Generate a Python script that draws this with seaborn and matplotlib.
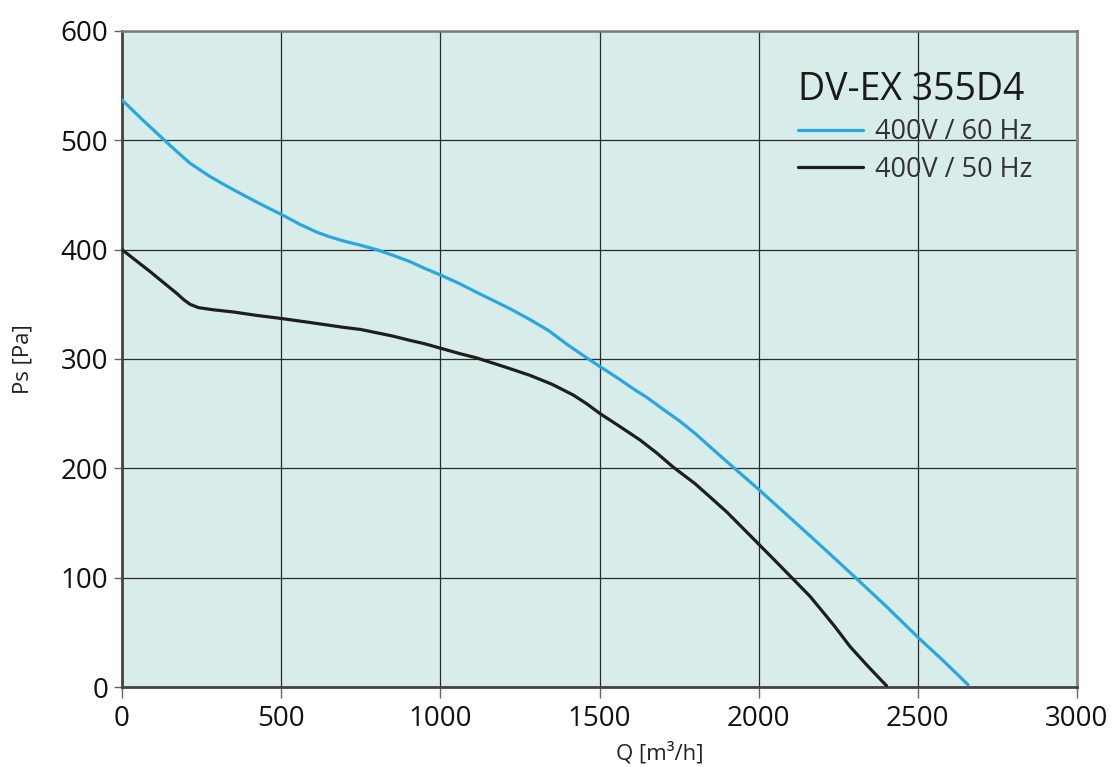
import numpy as np
import pandas as pd
import matplotlib
matplotlib.use("Agg")
import matplotlib.pyplot as plt
import seaborn as sns

# ---- data ----
q_60hz = [0, 60, 130, 175, 214, 276, 330, 381, 440, 502, 560, 612, 650, 695, 750,
          800, 850, 905, 950, 999, 1060, 1114, 1170, 1219, 1282, 1340, 1400, 1460,
          1502, 1560, 1610, 1648, 1700, 1753, 1800, 1850, 1920, 1999, 2075, 2151,
          2230, 2308, 2400, 2502, 2580, 2658]
ps_60hz = [537, 520, 501, 489, 479, 467, 458, 450, 441, 432, 423, 416, 412, 408, 404,
           400, 395, 389, 383, 377, 369, 361, 353, 346, 336, 326, 313, 301,
           293, 282, 272, 265, 254, 243, 232, 219, 201, 181, 161, 141,
           120, 99, 74, 45, 24, 2]

q_50hz = [0, 44, 88, 130, 172, 195, 214, 240, 287, 350, 420, 502, 600, 695, 750,
          800, 850, 905, 950, 999, 1060, 1114, 1200, 1282, 1350, 1418, 1460, 1502,
          1560, 1627, 1680, 1732, 1800, 1858, 1900, 1941, 1999, 2050, 2104, 2161,
          2198, 2240, 2287, 2340, 2402]
ps_50hz = [400, 390, 380, 370, 360, 354, 350, 347, 345, 343, 340, 337, 333, 329, 327,
           324, 321, 317, 314, 310, 305, 301, 293, 285, 277, 267, 259, 250,
           239, 226, 214, 201, 186, 171, 160, 148, 131, 116, 100, 83,
           70, 55, 37, 20, 1]

series_names = ["400V / 60 Hz", "400V / 50 Hz"]
series_colors = ["#29a8df", "#1e1e1e"]
chart_title = "DV-EX 355D4"
x_ticks = [0, 500, 1000, 1500, 2000, 2500, 3000]
y_ticks = [0, 100, 200, 300, 400, 500, 600]

df = pd.concat([
    pd.DataFrame({"Q": q_60hz, "Ps": ps_60hz, "series": series_names[0]}),
    pd.DataFrame({"Q": q_50hz, "Ps": ps_50hz, "series": series_names[1]}),
], ignore_index=True)

sns.set_style("ticks")
plt.rcParams["font.family"] = ["Open Sans", "DejaVu Sans"]

fig = plt.figure(figsize=(11.14, 7.67), dpi=100)
ax = fig.add_axes([122 / 1114, 1 - 687 / 767, 955 / 1114, 656 / 767])
ax.set_facecolor("#d8edea")

sns.lineplot(data=df, x="Q", y="Ps", hue="series", hue_order=series_names,
             palette=dict(zip(series_names, series_colors)), sort=False,
             linewidth=2.3, ax=ax, zorder=3)

ax.set_xlim(0, 3000)
ax.set_ylim(0, 600)
ax.set_xticks(x_ticks)
ax.set_yticks(y_ticks)
ax.grid(True, color="#2a2a2a", linewidth=0.9, zorder=1)
ax.set_axisbelow(True)

ax.tick_params(axis="both", labelsize=20, colors="#666666", labelcolor="#111111")
ax.tick_params(axis="x", length=8, width=1, pad=5)
ax.tick_params(axis="y", length=6, width=1, pad=4)

for side, col, lw in [("left", "#444444", 2.0), ("bottom", "#444444", 2.0),
                      ("top", "#7a7a7a", 1.8), ("right", "#8a8a8a", 2.2)]:
    ax.spines[side].set_color(col)
    ax.spines[side].set_linewidth(lw)

ax.set_xlabel("Q [m³/h]", fontsize=16, color="#222222", va="center")
ax.xaxis.set_label_coords((660 - 122) / 955, -(753 - 687) / 656)
ax.set_ylabel("Ps [Pa]", fontsize=16, color="#222222", va="center")
ax.yaxis.set_label_coords(-(122 - 23) / 955, 0.5)

leg = ax.legend(title=chart_title, frameon=False, loc="upper right",
                bbox_to_anchor=(0.953, 0.939), borderaxespad=0, borderpad=0,
                fontsize=19.5, title_fontsize=27, handlelength=2.4,
                handletextpad=0.45, labelspacing=0.35, alignment="left")
leg.get_title().set_color("#1a1a1a")
for t in leg.get_texts():
    t.set_color("#333333")

fig.savefig("out.png", dpi=100)
